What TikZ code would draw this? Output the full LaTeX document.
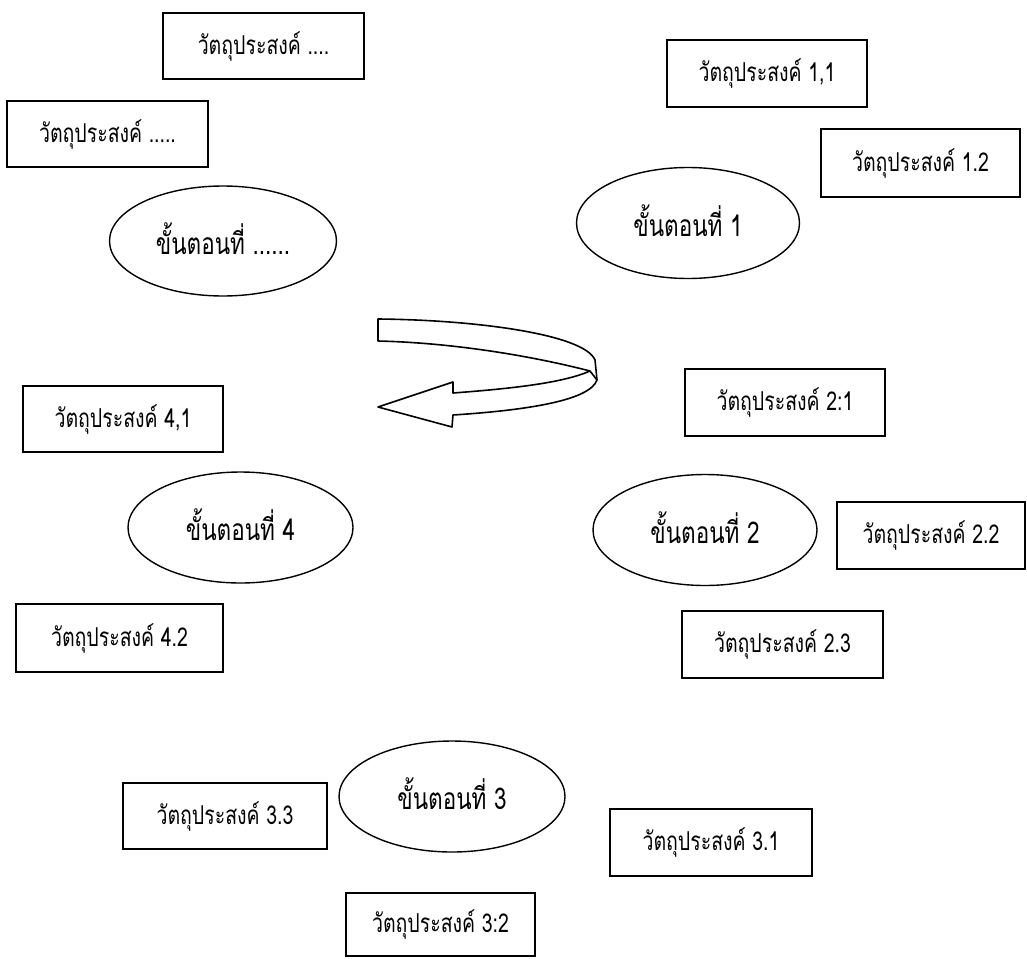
\documentclass[tikz,border=0pt]{standalone}
\usepackage{fontspec}
\newfontfamily\thaifont[Script=Thai,FakeStretch=0.75]{Loma}
\usetikzlibrary{shapes.geometric}
\newcommand{\steptext}[1]{\raisebox{5pt}{#1}}
\tikzset{
  objbox/.style={draw=black, line width=1.6pt, rectangle, inner sep=0pt,
    font=\thaifont\fontsize{26}{30}\selectfont},
  stepell/.style={draw=black, line width=1.4pt, ellipse, inner sep=0pt,
    font=\thaifont\fontsize{30}{34}\selectfont},
  cyclearrow/.style={draw=black, line width=1.6pt, fill=white, line join=round}
}
\begin{document}
\begin{tikzpicture}[x=1pt,y=-1pt]
\useasboundingbox (0,0) rectangle (1027,958);
% top-left group
\node[objbox, minimum width=201pt, minimum height=66pt] (o0a) at (263.5,46) {วัตถุประสงค์ ....};
\node[objbox, minimum width=201pt, minimum height=66pt] (o0b) at (107.5,134) {วัตถุประสงค์ .....};
\node[stepell, minimum width=227pt, minimum height=110pt] (e0) at (223,241) {\steptext{ขั้นตอนที่ ......}};
% step 1
\node[objbox, minimum width=200pt, minimum height=67pt] (o11) at (767,73.5) {วัตถุประสงค์ 1,1};
\node[objbox, minimum width=199pt, minimum height=68pt] (o12) at (920.5,163) {วัตถุประสงค์ 1.2};
\node[stepell, minimum width=223pt, minimum height=111pt] (e1) at (688,223) {\steptext{ขั้นตอนที่ 1}};
% step 2
\node[objbox, minimum width=200pt, minimum height=67pt] (o21) at (785,402.5) {วัตถุประสงค์ 2:1};
\node[stepell, minimum width=224pt, minimum height=111pt] (e2) at (705,530) {\steptext{ขั้นตอนที่ 2}};
\node[objbox, minimum width=188pt, minimum height=67pt] (o22) at (931,535.5) {วัตถุประสงค์ 2.2};
\node[objbox, minimum width=201pt, minimum height=67pt] (o23) at (782.5,644.5) {วัตถุประสงค์ 2.3};
% step 4
\node[objbox, minimum width=200pt, minimum height=66pt] (o41) at (123,419) {วัตถุประสงค์ 4,1};
\node[stepell, minimum width=225pt, minimum height=111pt] (e4) at (240.5,527.5) {\steptext{ขั้นตอนที่ 4}};
\node[objbox, minimum width=207pt, minimum height=68pt] (o42) at (119.5,638) {วัตถุประสงค์ 4.2};
% step 3
\node[stepell, minimum width=226pt, minimum height=111pt] (e3) at (452,796.5) {\steptext{ขั้นตอนที่ 3}};
\node[objbox, minimum width=204pt, minimum height=66pt] (o33) at (225,816) {วัตถุประสงค์ 3.3};
\node[objbox, minimum width=202pt, minimum height=67pt] (o31) at (711,842.5) {วัตถุประสงค์ 3.1};
\node[objbox, minimum width=189pt, minimum height=63pt] (o32) at (440.5,924.5) {วัตถุประสงค์ 3:2};
% curved cycle arrow
\coordinate (a1) at (378,319);
\coordinate (a2) at (595,360);
\coordinate (a3) at (597,380);
\coordinate (a4) at (453,415);
\coordinate (a5) at (452,427);
\coordinate (tip) at (378,407);
\coordinate (a6) at (453,382);
\coordinate (a7) at (453,393);
\coordinate (a8) at (590,371);
\coordinate (a9) at (378,341);
\path[cyclearrow] (a1) .. controls (480,320) and (585,335) .. (a2)
  -- (a3) .. controls (590,400) and (530,410) .. (a4)
  -- (a5) -- (tip) -- (a6) -- (a7)
  .. controls (520,388) and (565,382) .. (a8)
  .. controls (540,358) and (460,343) .. (a9) -- cycle;
\draw[line width=1.6pt] (a8) -- (a3);
\end{tikzpicture}
\end{document}
